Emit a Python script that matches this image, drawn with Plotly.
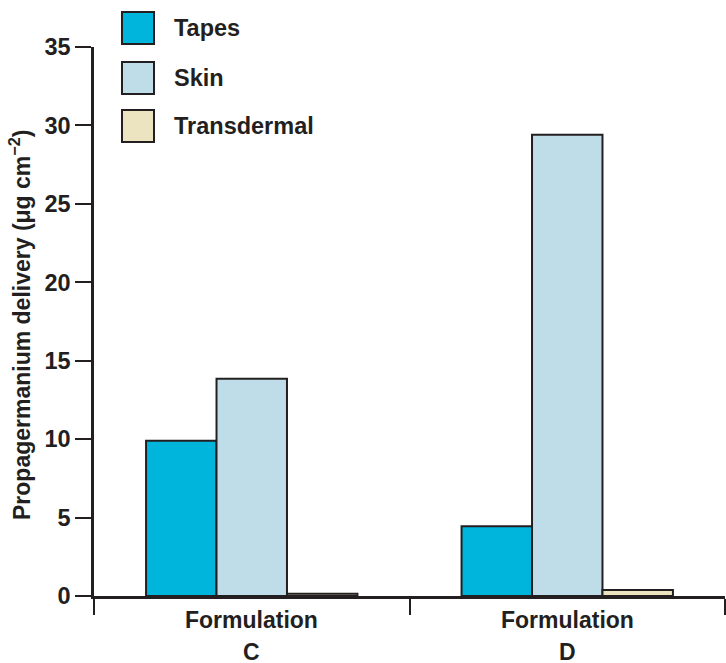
import plotly.graph_objects as go

# ---- data ----
categories = ["C", "D"]
category_prefix = "Formulation"
series_names = ["Tapes", "Skin", "Transdermal"]
tapes = [9.9, 4.45]
skin = [13.85, 29.4]
transdermal = [0.15, 0.38]
y_ticks = [0, 5, 10, 15, 20, 25, 30, 35]
y_title = "Propagermanium delivery (μg cm<sup>−2</sup>)"

# ---- style ----
W, H = 726, 663
L, R, T, B = 94, 1, 47, 67
PW, PH = W - L - R, H - T - B
ink = "#231f20"
colors = ["#00b5dc", "#bedde9", "#ece4c1"]
FONT = "Liberation Sans, Arial, Helvetica, sans-serif"


def px_x(px):
    return (px - L) / PW


def px_y(py):
    return (H - B - py) / PH


fig = go.Figure()
for name, vals, col in zip(series_names, [tapes, skin, transdermal], colors):
    fig.add_trace(go.Bar(
        name=name, x=categories, y=vals,
        marker=dict(color=col, line=dict(color=ink, width=2)),
        showlegend=False,
    ))

shapes = []
annotations = []

# legend (drawn manually to match large swatches)
leg_rows = [28, 78, 126]
for name, col, cy in zip(series_names, colors, leg_rows):
    shapes.append(dict(type="rect", xref="paper", yref="paper",
                       x0=px_x(122), x1=px_x(154),
                       y0=px_y(cy + 16), y1=px_y(cy - 16),
                       fillcolor=col, line=dict(color=ink, width=2)))
    annotations.append(dict(xref="paper", yref="paper", x=px_x(172), y=px_y(cy),
                            xanchor="left", yanchor="middle", showarrow=False,
                            text=name, font=dict(size=23.5, color=ink, family=FONT, weight="bold")))

# x category labels (two lines)
for c in categories:
    annotations.append(dict(xref="x", yref="paper", x=c, y=px_y(620),
                            xanchor="center", yanchor="middle", showarrow=False,
                            text=category_prefix,
                            font=dict(size=23, color=ink, family=FONT, weight="bold")))
    annotations.append(dict(xref="x", yref="paper", x=c, y=px_y(652),
                            xanchor="center", yanchor="middle", showarrow=False,
                            text=c, borderpad=0,
                            font=dict(size=23, color=ink, family=FONT, weight="bold")))

# y title
annotations.append(dict(xref="paper", yref="paper", x=px_x(20), y=px_y(325),
                        xanchor="center", yanchor="middle", showarrow=False,
                        textangle=-90, text=y_title,
                        font=dict(size=23, color=ink, family=FONT, weight="bold")))

fig.update_layout(
    width=W, height=H,
    margin=dict(l=L, r=R, t=T, b=B, pad=0),
    paper_bgcolor="white", plot_bgcolor="white",
    barmode="group", bargap=0.33, bargroupgap=0,
    font=dict(family=FONT, color=ink, size=21, weight="bold"),
    shapes=shapes, annotations=annotations,
    xaxis=dict(type="category", range=[-0.5, 1.5], showticklabels=False,
               tickson="boundaries", ticks="outside", ticklen=16, tickwidth=1.5,
               tickcolor=ink, showline=True, linecolor=ink, linewidth=2.5,
               showgrid=False, zeroline=False, fixedrange=True),
    yaxis=dict(range=[0, 35], tickvals=y_ticks, ticks="outside", ticklen=16,
               tickwidth=1.5, tickcolor=ink, showline=True, linecolor=ink,
               linewidth=2.5, showgrid=False, zeroline=False,
               tickfont=dict(size=23.5, color=ink, family=FONT, weight="bold")),
)

fig.write_html("out.html", config={"displayModeBar": False},
               post_script="document.body.style.margin='0';")
